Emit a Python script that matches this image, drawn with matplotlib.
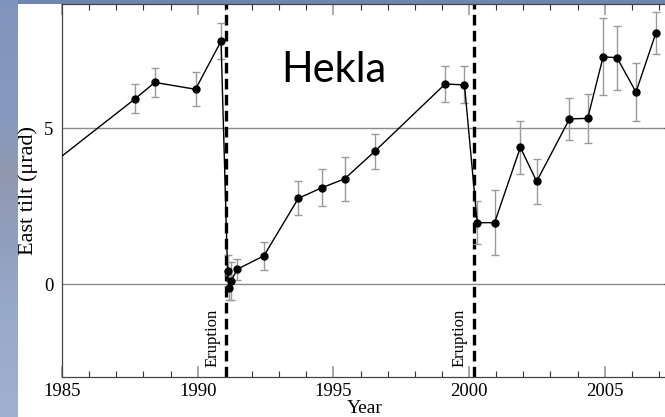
import numpy as np
import matplotlib.pyplot as plt
from matplotlib.patches import Rectangle
from matplotlib.ticker import MultipleLocator

# east tilt survey, Hekla (decimal year, microradians, 1-sigma)
years = [1983.6, 1987.70, 1988.42, 1989.92, 1990.86, 1991.10, 1991.15, 1991.23,
         1991.46, 1992.44, 1993.71, 1994.58, 1995.41, 1996.52, 1999.12, 1999.83,
         2000.30, 2000.94, 2001.89, 2002.49, 2003.70, 2004.37, 2004.94, 2005.45,
         2006.15, 2006.88]
tilt = [3.15, 5.94, 6.46, 6.24, 7.78, 0.43, -0.12, 0.11,
        0.48, 0.91, 2.75, 3.09, 3.37, 4.25, 6.41, 6.38,
        1.97, 1.97, 4.38, 3.29, 5.29, 5.31, 7.28, 7.25,
        6.15, 8.03]
tilt_err = [0.5, 0.46, 0.46, 0.55, 0.57, 0.5, 0.4, 0.6,
            0.34, 0.44, 0.54, 0.59, 0.71, 0.56, 0.57, 0.59,
            0.68, 1.04, 0.85, 0.73, 0.67, 0.78, 1.23, 1.02,
            0.93, 0.67]
eruptions = [1991.05, 2000.17]
eruption_label = "Eruption"
ref_levels = [0, 5]

W, H = 665, 417
fig = plt.figure(figsize=(W / 100, H / 100), dpi=100)
fig.patch.set_facecolor("#6f86b2")

# slide backdrop: blue strip down the left edge
stops = np.array([0, 120, 170, 240, 300, H]) / H
cols = np.array([[0.50, 0.58, 0.74], [0.53, 0.60, 0.75], [0.57, 0.60, 0.69],
                 [0.57, 0.62, 0.74], [0.59, 0.66, 0.79], [0.63, 0.69, 0.82]])
rows = np.linspace(0, 1, H)
strip = np.stack([np.interp(rows, stops, cols[:, k]) for k in range(3)], axis=-1)
strip = np.repeat(strip[:, None, :], 18, axis=1)
fig.figimage(strip, xo=0, yo=0, origin="upper", zorder=-3)
fig.patches.append(Rectangle((18 / W, 0), 1, (H - 4) / H, transform=fig.transFigure,
                             facecolor="white", edgecolor="none", zorder=-2))

ax = fig.add_axes([62 / W, 40 / H, 606 / W, 372.7 / H])
ax.set_xlim(1985, 2007.33)
ax.set_ylim(-2.97, 8.96)

for lev in ref_levels:
    ax.axhline(lev, color="#8a8a8a", lw=1.0, zorder=1)

for t in eruptions:
    ax.axvline(t, color="black", lw=2.4, ls=(0, (3.2, 1.6)), zorder=2)
    ax.text(t - 0.52, -2.64, eruption_label, rotation=90, ha="center", va="bottom",
            fontsize=12, family="Liberation Serif")

ax.errorbar(years, tilt, yerr=tilt_err, fmt="none", ecolor="#9a9a9a",
            elinewidth=1.0, capsize=3, capthick=1.0, zorder=3)
ax.plot(years, tilt, color="black", lw=1.0, marker="o", ms=5.0, zorder=4)

ax.text(1995.0, 6.85, "Hekla", ha="center", va="center", fontsize=30, family="Lato")

ax.xaxis.set_major_locator(MultipleLocator(5))
ax.xaxis.set_minor_locator(MultipleLocator(1))
ax.set_yticks(ref_levels)
ax.tick_params(axis="x", which="major", direction="in", length=8, width=1.2,
               color="#9a9a9a", top=True, pad=4)
ax.tick_params(axis="x", which="minor", direction="in", length=4.5, width=0.8,
               color="#333333", top=True)
ax.tick_params(axis="y", direction="in", length=3, width=0.8, color="#333333",
               right=True, left=False, pad=6)
for lab in ax.get_xticklabels() + ax.get_yticklabels():
    lab.set_family("Liberation Serif")
    lab.set_fontsize(13.5)

for sp in ax.spines.values():
    sp.set_color("#444444")
    sp.set_linewidth(0.9)

ax.set_xlabel("Year", family="Liberation Serif", fontsize=14, labelpad=0)
ax.set_ylabel("East tilt (\u03bcrad)", family="Liberation Serif", fontsize=16)
ax.yaxis.set_label_coords(-0.040, 0.50)

fig.savefig("out.png", dpi=100)
